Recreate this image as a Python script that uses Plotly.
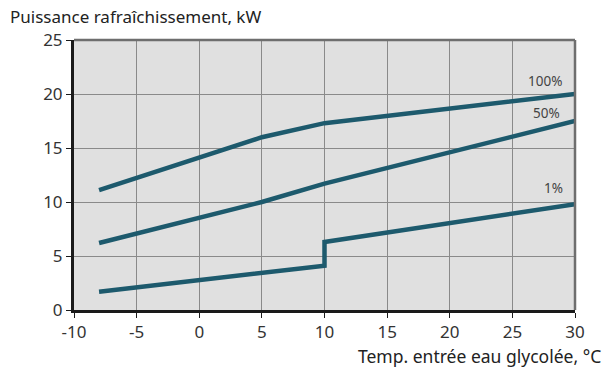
import plotly.graph_objects as go

x_100 = [-8, 5, 10, 30]
y_100 = [11.1, 16.0, 17.3, 20.0]
x_50 = [-8, 5, 10, 30]
y_50 = [6.2, 10.0, 11.7, 17.5]
x_1 = [-8, 10, 10, 30]
y_1 = [1.7, 4.1, 6.3, 9.8]
labels = ["100%", "50%", "1%"]
label_x = [27.6, 27.7, 28.3]
label_y = [21.2, 18.2, 11.3]
x_ticks = [-10, -5, 0, 5, 10, 15, 20, 25, 30]
x_ticktext = ["-10", "-5", "0", "5", "10", "15", "20", "25", "30"]
y_ticks = [0, 5, 10, 15, 20, 25]

line_color = "#1d5a6d"
font_family = "Noto Sans, Open Sans, DejaVu Sans, sans-serif"

fig = go.Figure()
for xs, ys in [(x_100, y_100), (x_50, y_50), (x_1, y_1)]:
    fig.add_trace(go.Scatter(x=xs, y=ys, mode="lines",
                             line=dict(color=line_color, width=4.5),
                             showlegend=False, hoverinfo="skip"))

for t, lx, ly in zip(labels, label_x, label_y):
    fig.add_annotation(x=lx, y=ly, text=t, showarrow=False,
                       xanchor="center", yanchor="middle",
                       font=dict(size=13.5, color="#444444", family=font_family))

fig.add_shape(type="line", xref="paper", yref="paper", x0=0, x1=1, y0=1, y1=1,
              line=dict(color="#6e6e6e", width=2.5))
fig.add_shape(type="line", xref="paper", yref="paper", x0=1, x1=1, y0=0, y1=1,
              line=dict(color="#6e6e6e", width=2.5))

fig.add_annotation(xref="paper", yref="paper", x=-0.132, y=1.0, yshift=24,
                   text="Puissance rafraîchissement, kW", showarrow=False,
                   xanchor="left", yanchor="middle",
                   font=dict(size=17, color="#222222", family=font_family))
fig.add_annotation(xref="paper", yref="paper", x=1.055, y=0, yshift=-46,
                   text="Temp. entrée eau glycolée, °C", showarrow=False,
                   xanchor="right", yanchor="middle",
                   font=dict(size=17.5, color="#222222", family=font_family))

fig.update_layout(
    width=606, height=372,
    margin=dict(l=74, r=31, t=40, b=62),
    paper_bgcolor="white",
    plot_bgcolor="#e0e0e0",
    font=dict(family=font_family, size=17, color="#333333"),
)
fig.update_xaxes(range=[-10, 30], tickvals=x_ticks, ticktext=x_ticktext,
                 showgrid=True, gridcolor="#8a8a8a", gridwidth=1.2,
                 zeroline=False, showline=True, linecolor="#1a1a1a", linewidth=3,
                 ticks="outside", ticklen=5, tickcolor="#1a1a1a", tickwidth=1)
fig.update_yaxes(range=[0, 25], tickvals=y_ticks,
                 showgrid=True, gridcolor="#8a8a8a", gridwidth=1.2,
                 zeroline=False, showline=True, linecolor="#1a1a1a", linewidth=3,
                 ticks="outside", ticklen=5, tickcolor="#1a1a1a", tickwidth=1)

fig.write_html("out.html", config={"displayModeBar": False},
               post_script="document.body.style.margin='0';document.body.style.overflow='hidden';")
